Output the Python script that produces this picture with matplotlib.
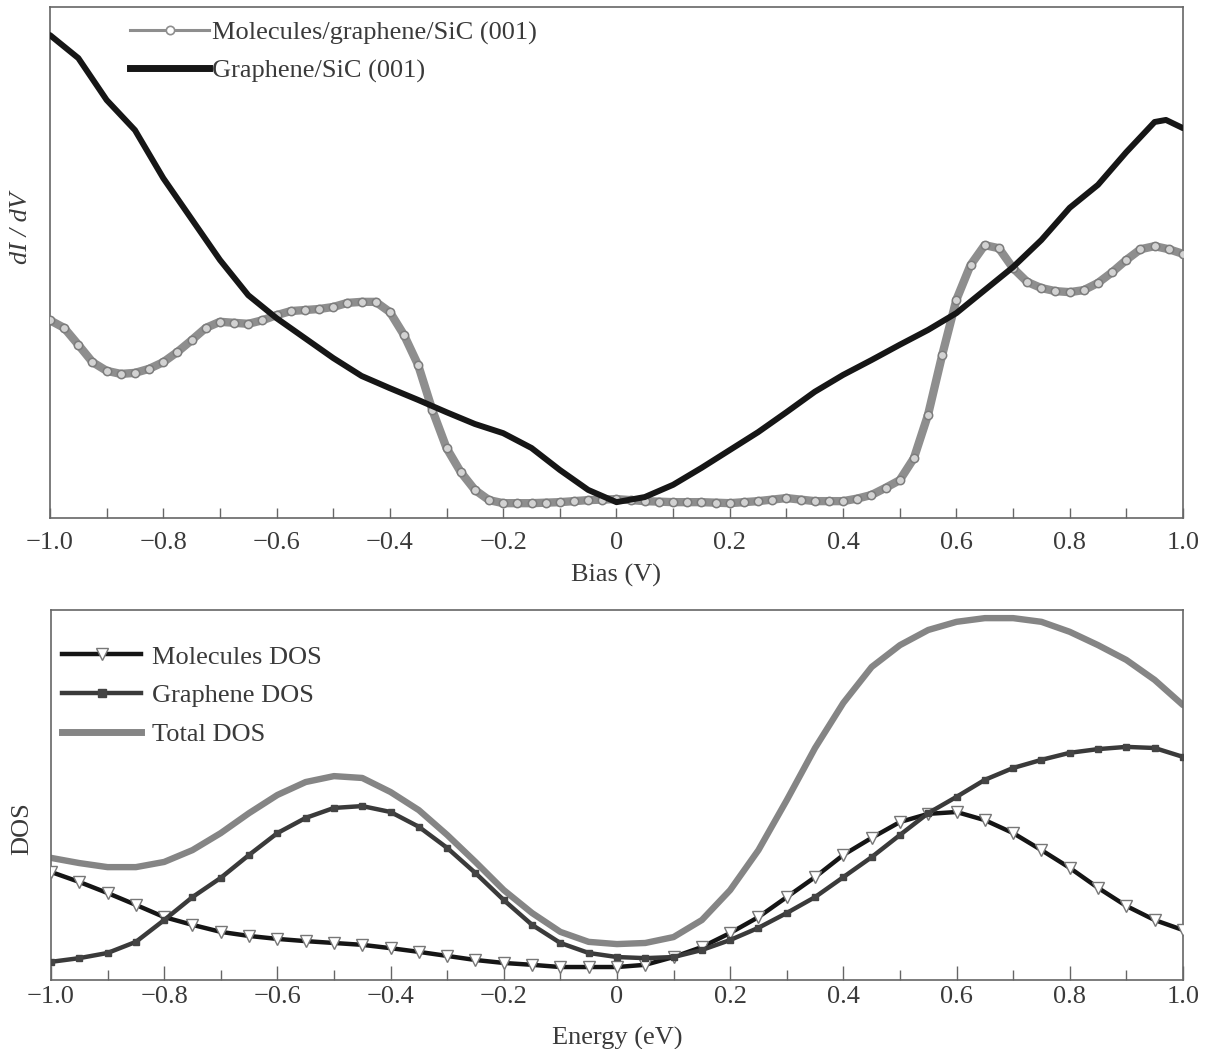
import matplotlib

matplotlib.use("Agg")
import matplotlib.pyplot as plt
from matplotlib.lines import Line2D
from matplotlib.ticker import MultipleLocator, FuncFormatter

plt.rcParams["font.family"] = ["Liberation Serif", "DejaVu Serif"]

# --- top panel: dI/dV vs bias (arbitrary units) ---
bias_gr = [-1.0, -0.95, -0.9, -0.85, -0.8, -0.75, -0.7, -0.65, -0.6, -0.55,
           -0.5, -0.45, -0.4, -0.35, -0.3, -0.25, -0.2, -0.15, -0.1, -0.05,
           0.0, 0.05, 0.1, 0.15, 0.2, 0.25, 0.3, 0.35, 0.4, 0.45,
           0.5, 0.55, 0.6, 0.65, 0.7, 0.75, 0.8, 0.85, 0.9, 0.95, 0.97, 1.0]
didv_gr = [94.5, 90.0, 81.8, 75.9, 66.5, 58.5, 50.5, 43.6, 39.1, 35.2,
           31.3, 27.8, 25.4, 23.1, 20.7, 18.4, 16.6, 13.7, 9.4, 5.5,
           3.1, 4.1, 6.5, 9.8, 13.3, 16.8, 20.7, 24.7, 28.0, 30.9,
           33.9, 36.8, 40.1, 44.6, 49.1, 54.4, 60.7, 65.2, 71.6, 77.5, 77.9, 76.3]

bias_mol = [-1.0, -0.975, -0.95, -0.925, -0.9, -0.875, -0.85, -0.825, -0.8, -0.775,
            -0.75, -0.725, -0.7, -0.675, -0.65, -0.625, -0.6, -0.575, -0.55, -0.525,
            -0.5, -0.475, -0.45, -0.425, -0.4, -0.375, -0.35, -0.325, -0.3, -0.275,
            -0.25, -0.225, -0.2, -0.175, -0.15, -0.125, -0.1, -0.075, -0.05, -0.025,
            0.0, 0.025, 0.05, 0.075, 0.1, 0.125, 0.15, 0.175, 0.2, 0.225,
            0.25, 0.275, 0.3, 0.325, 0.35, 0.375, 0.4, 0.425, 0.45, 0.475,
            0.5, 0.525, 0.55, 0.575, 0.6, 0.625, 0.65, 0.675, 0.7, 0.725,
            0.75, 0.775, 0.8, 0.825, 0.85, 0.875, 0.9, 0.925, 0.95, 0.975, 1.0]
didv_mol = [38.7, 37.2, 33.9, 30.5, 28.8, 28.2, 28.4, 29.2, 30.5, 32.5,
            34.8, 37.2, 38.4, 38.2, 38.0, 38.7, 39.7, 40.5, 40.7, 40.9,
            41.3, 42.1, 42.3, 42.3, 40.3, 35.8, 29.9, 21.1, 13.7, 9.0,
            5.5, 3.5, 2.9, 2.9, 2.9, 3.0, 3.1, 3.3, 3.5, 3.6,
            3.7, 3.5, 3.3, 3.2, 3.1, 3.1, 3.1, 3.0, 2.9, 3.1,
            3.3, 3.6, 3.9, 3.6, 3.3, 3.3, 3.3, 3.8, 4.5, 5.9,
            7.4, 11.7, 20.2, 31.9, 42.7, 49.5, 53.4, 52.8, 48.9, 46.2,
            45.0, 44.4, 44.2, 44.6, 46.0, 48.1, 50.5, 52.6, 53.2, 52.6, 51.7]

# --- bottom panel: DOS vs energy (arbitrary units) ---
energy = [-1.0, -0.95, -0.9, -0.85, -0.8, -0.75, -0.7, -0.65, -0.6, -0.55,
          -0.5, -0.45, -0.4, -0.35, -0.3, -0.25, -0.2, -0.15, -0.1, -0.05,
          0.0, 0.05, 0.1, 0.15, 0.2, 0.25, 0.3, 0.35, 0.4, 0.45,
          0.5, 0.55, 0.6, 0.65, 0.7, 0.75, 0.8, 0.85, 0.9, 0.95, 1.0]
dos_mol = [29.2, 26.5, 23.5, 20.3, 17.0, 14.9, 13.0, 11.9, 11.1, 10.5,
           10.0, 9.5, 8.6, 7.6, 6.5, 5.4, 4.6, 4.1, 3.5, 3.5,
           3.5, 4.1, 6.2, 8.9, 12.7, 17.0, 22.4, 27.8, 33.8, 38.4,
           42.7, 44.9, 45.4, 43.2, 39.7, 35.1, 30.3, 24.9, 20.0, 16.2, 13.5]
dos_gr = [4.9, 5.9, 7.3, 10.3, 16.2, 22.4, 27.6, 33.8, 39.7, 43.8,
          46.5, 47.0, 45.4, 41.4, 35.7, 28.9, 21.6, 14.9, 10.0, 7.3,
          6.2, 5.9, 6.2, 8.1, 10.8, 14.1, 18.1, 22.4, 27.8, 33.2,
          39.2, 45.1, 49.5, 54.1, 57.3, 59.5, 61.4, 62.4, 63.0, 62.7, 60.3]
dos_tot = [33.0, 31.6, 30.5, 30.5, 31.9, 35.1, 39.7, 45.1, 50.0, 53.5,
           55.1, 54.6, 50.8, 45.9, 39.2, 31.9, 24.3, 18.1, 13.0, 10.3,
           9.7, 10.0, 11.6, 16.2, 24.3, 35.1, 48.6, 62.7, 74.9, 84.6,
           90.5, 94.6, 96.8, 97.8, 97.8, 96.8, 94.1, 90.5, 86.5, 81.1, 74.3]

SPINE = "#666666"
TEXT = "#3a3a3a"
FS = 19


def fmt_tick(v, _pos):
    if abs(v) < 1e-9:
        return "0"
    return f"{v:.1f}".replace("-", "\u2212")


def style_axes(ax, major_len, minor_len, pad):
    for s in ax.spines.values():
        s.set_color(SPINE)
        s.set_linewidth(1.2)
    ax.set_xlim(-1.0, 1.0)
    ax.set_ylim(0, 100)
    ax.xaxis.set_major_locator(MultipleLocator(0.2))
    ax.xaxis.set_minor_locator(MultipleLocator(0.1))
    ax.xaxis.set_major_formatter(FuncFormatter(fmt_tick))
    ax.tick_params(axis="x", which="both", direction="in", color=SPINE,
                   width=1.0, labelsize=FS, labelcolor=TEXT, pad=pad)
    ax.tick_params(axis="x", which="major", length=major_len)
    ax.tick_params(axis="x", which="minor", length=minor_len)
    ax.set_yticks([])


fig = plt.figure(figsize=(12.05, 10.49), dpi=100)
ax1 = fig.add_axes([0.0415, 0.5062, 0.9402, 0.4871])
ax2 = fig.add_axes([0.0423, 0.0658, 0.9394, 0.3527])

# top panel
ax1.plot(bias_mol, didv_mol, color="#8e8e8e", lw=6, zorder=2,
         solid_joinstyle="round")
ax1.plot(bias_mol, didv_mol, ls="none", marker="o", ms=6, mfc="#d2d2d2",
         mec="#7c7c7c", mew=1.1, zorder=3)
ax1.plot(bias_gr, didv_gr, color="#161616", lw=4.3, zorder=4,
         solid_capstyle="round", solid_joinstyle="round")
style_axes(ax1, 7, 7, 10)
ax1.set_xlabel("Bias (V)", fontsize=FS, color=TEXT, labelpad=7)
ax1.set_ylabel("dI / dV", fontsize=FS, color=TEXT, style="italic")
ax1.yaxis.set_label_coords(-0.016, 0.567)

h_mol = Line2D([], [], color="#8e8e8e", lw=2.2, marker="o", ms=6,
               mfc="white", mec="#8e8e8e", mew=1.2)
h_gr = Line2D([], [], color="#161616", lw=5)
leg1 = ax1.legend([h_mol, h_gr], ["Molecules/graphene/SiC (001)", "Graphene/SiC (001)"],
                  loc="upper left", bbox_to_anchor=(0.0706, 0.973), frameon=False,
                  fontsize=FS, handlelength=3.0, handletextpad=0.1,
                  labelspacing=0.55, borderpad=0, borderaxespad=0)
for t in leg1.get_texts():
    t.set_color(TEXT)

# bottom panel
ax2.plot(energy, dos_mol, color="#151515", lw=3.2, marker="v", ms=9,
         mfc="white", mec="#777777", mew=1.0, zorder=3,
         solid_joinstyle="round")
ax2.plot(energy, dos_gr, color="#3a3a3a", lw=3.2, marker="s", ms=5,
         mfc="#444444", mec="#444444", zorder=4, solid_joinstyle="round")
ax2.plot(energy, dos_tot, color="#858585", lw=4.6, zorder=2,
         solid_capstyle="round", solid_joinstyle="round")
style_axes(ax2, 10, 7, 4)
ax2.set_xlabel("Energy (eV)", fontsize=FS, color=TEXT, labelpad=14)
ax2.set_ylabel("DOS", fontsize=FS, color=TEXT)
ax2.yaxis.set_label_coords(-0.016, 0.41)

h1 = Line2D([], [], color="#151515", lw=3.2, marker="v", ms=9,
            mfc="white", mec="#777777", mew=1.0)
h2 = Line2D([], [], color="#3a3a3a", lw=3.2, marker="s", ms=6,
            mfc="#444444", mec="#444444")
h3 = Line2D([], [], color="#858585", lw=5)
leg2 = ax2.legend([h1, h2, h3], ["Molecules DOS", "Graphene DOS", "Total DOS"],
                  loc="upper left", bbox_to_anchor=(0.0097, 0.905), frameon=False,
                  fontsize=FS, handlelength=3.0, handletextpad=0.4,
                  labelspacing=0.58, borderpad=0, borderaxespad=0)
for t in leg2.get_texts():
    t.set_color(TEXT)

fig.savefig("out.png", dpi=100, facecolor="white")
